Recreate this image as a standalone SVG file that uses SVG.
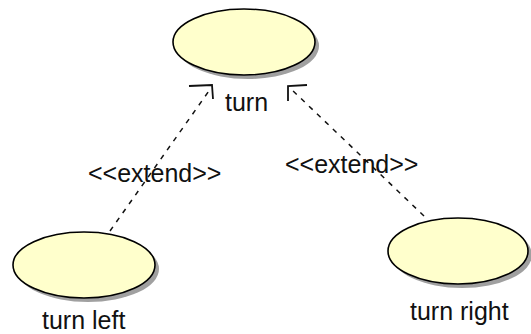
<svg xmlns="http://www.w3.org/2000/svg" width="531" height="334" viewBox="0 0 531 334">
  <style>
    .shadow { fill: #a0a0a0; stroke: none; }
    .usecase { fill: #ffffcc; stroke: #000; stroke-width: 1.6; }
    .label { font-family: "Liberation Sans", Arial, sans-serif; font-size: 25px; fill: #111; }
    .dep { fill: none; stroke: #111; stroke-width: 1.5; stroke-dasharray: 5 6; }
    .head { fill: none; stroke: #111; stroke-width: 1.8; }
  </style>
  <rect width="531" height="334" fill="#fff"/>

  <g id="connectors">
    <!-- turn left extends turn -->
    <line class="dep" x1="110" y1="231" x2="211" y2="88"/>
    <polyline class="head" points="189,86 212,85 213,99"/>
    <text class="label" x="88" y="182">&lt;&lt;extend&gt;&gt;</text>
    <!-- turn right extends turn -->
    <line class="dep" x1="424" y1="216" x2="290" y2="88"/>
    <polyline class="head" points="307,85 288,86 288,101"/>
    <text class="label" x="285" y="173">&lt;&lt;extend&gt;&gt;</text>
  </g>

  <g id="turn">
    <ellipse class="shadow" cx="248" cy="46" rx="71" ry="33"/>
    <ellipse class="usecase" cx="244" cy="42" rx="71" ry="33"/>
    <text class="label" x="225" y="111">turn</text>
  </g>

  <g id="turn-left">
    <ellipse class="shadow" cx="88" cy="269" rx="71" ry="33"/>
    <ellipse class="usecase" cx="84" cy="265" rx="71" ry="33"/>
    <text class="label" x="42" y="329">turn left</text>
  </g>

  <g id="turn-right">
    <ellipse class="shadow" cx="462" cy="255" rx="70" ry="33"/>
    <ellipse class="usecase" cx="458" cy="251" rx="70" ry="33"/>
    <text class="label" x="410" y="320">turn right</text>
  </g>
</svg>
